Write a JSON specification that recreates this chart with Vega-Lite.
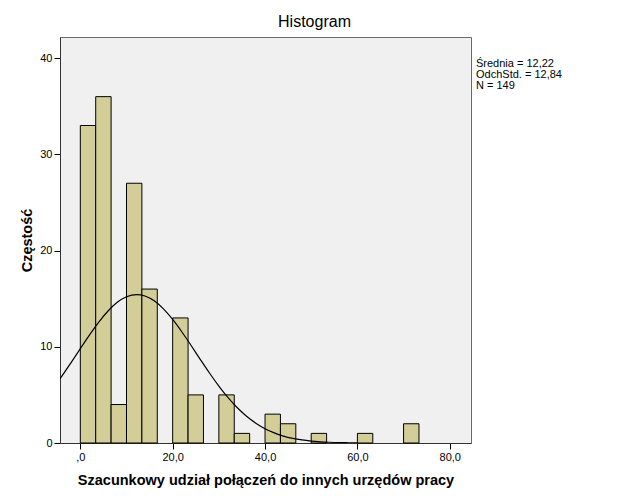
{
  "$schema": "https://vega.github.io/schema/vega-lite/v6.json",
  "width": 411,
  "height": 406,
  "autosize": {"type": "none"},
  "padding": {"left": 60, "top": 37, "right": 158, "bottom": 61},
  "background": "white",
  "view": {"fill": "#f0f0f0", "stroke": "#6a6a6a", "strokeWidth": 1},
  "config": {
    "font": "Liberation Sans",
    "axis": {"labelFont": "Liberation Sans", "titleFont": "Liberation Sans", "labelFontSize": 11, "labelColor": "black", "titleFontSize": 14.5, "titleFontWeight": "bold", "titleColor": "black", "grid": false, "tickColor": "black", "domainColor": "#333", "tickSize": 6, "labelPadding": 2}
  },
  "title": {"text": "Histogram", "fontSize": 16, "fontWeight": "normal", "font": "Liberation Sans", "color": "black", "anchor": "middle", "frame": "group", "dx": 49, "offset": 7},
  "datasets": {
    "bins": [
      {"bin_start": 0, "bin_end": 3.333, "count": 33},
      {"bin_start": 3.333, "bin_end": 6.667, "count": 36},
      {"bin_start": 6.667, "bin_end": 10, "count": 4},
      {"bin_start": 10, "bin_end": 13.333, "count": 27},
      {"bin_start": 13.333, "bin_end": 16.667, "count": 16},
      {"bin_start": 20, "bin_end": 23.333, "count": 13},
      {"bin_start": 23.333, "bin_end": 26.667, "count": 5},
      {"bin_start": 30, "bin_end": 33.333, "count": 5},
      {"bin_start": 33.333, "bin_end": 36.667, "count": 1},
      {"bin_start": 40, "bin_end": 43.333, "count": 3},
      {"bin_start": 43.333, "bin_end": 46.667, "count": 2},
      {"bin_start": 50, "bin_end": 53.333, "count": 1},
      {"bin_start": 60, "bin_end": 63.333, "count": 1},
      {"bin_start": 70, "bin_end": 73.333, "count": 2}
    ],
    "curve": [
      {"x": -4.4, "y": 6.68}, {"x": -4, "y": 6.95}, {"x": -2, "y": 8.36}, {"x": 0, "y": 9.81},
      {"x": 2, "y": 11.24}, {"x": 4, "y": 12.57}, {"x": 6, "y": 13.72}, {"x": 8, "y": 14.62},
      {"x": 10, "y": 15.2}, {"x": 12.22, "y": 15.43}, {"x": 14, "y": 15.28}, {"x": 16, "y": 14.78},
      {"x": 18, "y": 13.94}, {"x": 20, "y": 12.84}, {"x": 22, "y": 11.54}, {"x": 24, "y": 10.13},
      {"x": 26, "y": 8.67}, {"x": 28, "y": 7.25}, {"x": 30, "y": 5.92}, {"x": 32, "y": 4.71},
      {"x": 34, "y": 3.66}, {"x": 36, "y": 2.78}, {"x": 38, "y": 2.06}, {"x": 40, "y": 1.49},
      {"x": 42, "y": 1.05}, {"x": 44, "y": 0.72}, {"x": 46, "y": 0.485}, {"x": 48, "y": 0.318},
      {"x": 50, "y": 0.203}, {"x": 52, "y": 0.127}, {"x": 54, "y": 0.077}, {"x": 56, "y": 0.046},
      {"x": 58, "y": 0.027}, {"x": 60, "y": 0.015}
    ],
    "stats": [
      {"stat": "Średnia = 12,22"},
      {"stat": "OdchStd. = 12,84"},
      {"stat": "N = 149"}
    ]
  },
  "layer": [
    {
      "data": {"name": "bins"},
      "mark": {"type": "rect", "fill": "#d3ce97", "stroke": "black", "strokeWidth": 1},
      "encoding": {
        "x": {"field": "bin_start", "type": "quantitative", "scale": {"domain": [-4.4, 84.6], "nice": false, "zero": false},
          "axis": {"values": [0, 20, 40, 60, 80], "title": "Szacunkowy udział połączeń do innych urzędów pracy", "labelExpr": "datum.value == 0 ? ',0' : replace(format(datum.value, '.1f'), '.', ',')", "titlePadding": 11}},
        "x2": {"field": "bin_end"},
        "y": {"field": "count", "type": "quantitative", "scale": {"domain": [0, 42.2], "nice": false},
          "axis": {"values": [0, 10, 20, 30, 40], "title": "Częstość", "titlePadding": 5}},
        "y2": {"datum": 0}
      }
    },
    {
      "data": {"name": "curve"},
      "mark": {"type": "line", "color": "black", "strokeWidth": 1.2, "clip": true, "interpolate": "monotone"},
      "encoding": {
        "x": {"field": "x", "type": "quantitative"},
        "y": {"field": "y", "type": "quantitative"}
      }
    },
    {
      "data": {"name": "stats"},
      "mark": {"type": "point", "opacity": 0},
      "encoding": {
        "color": {"field": "stat", "type": "nominal",
          "scale": {"domain": ["Średnia = 12,22", "OdchStd. = 12,84", "N = 149"], "range": ["black", "black", "black"]},
          "legend": {"title": null, "orient": "none", "legendX": 405, "legendY": 21, "symbolOpacity": 0, "symbolSize": 0, "symbolStrokeWidth": 0, "labelOffset": 0, "rowPadding": -1.5, "labelFontSize": 11, "labelFont": "Liberation Sans", "labelColor": "black", "padding": 0}
        }
      }
    }
  ]
}
